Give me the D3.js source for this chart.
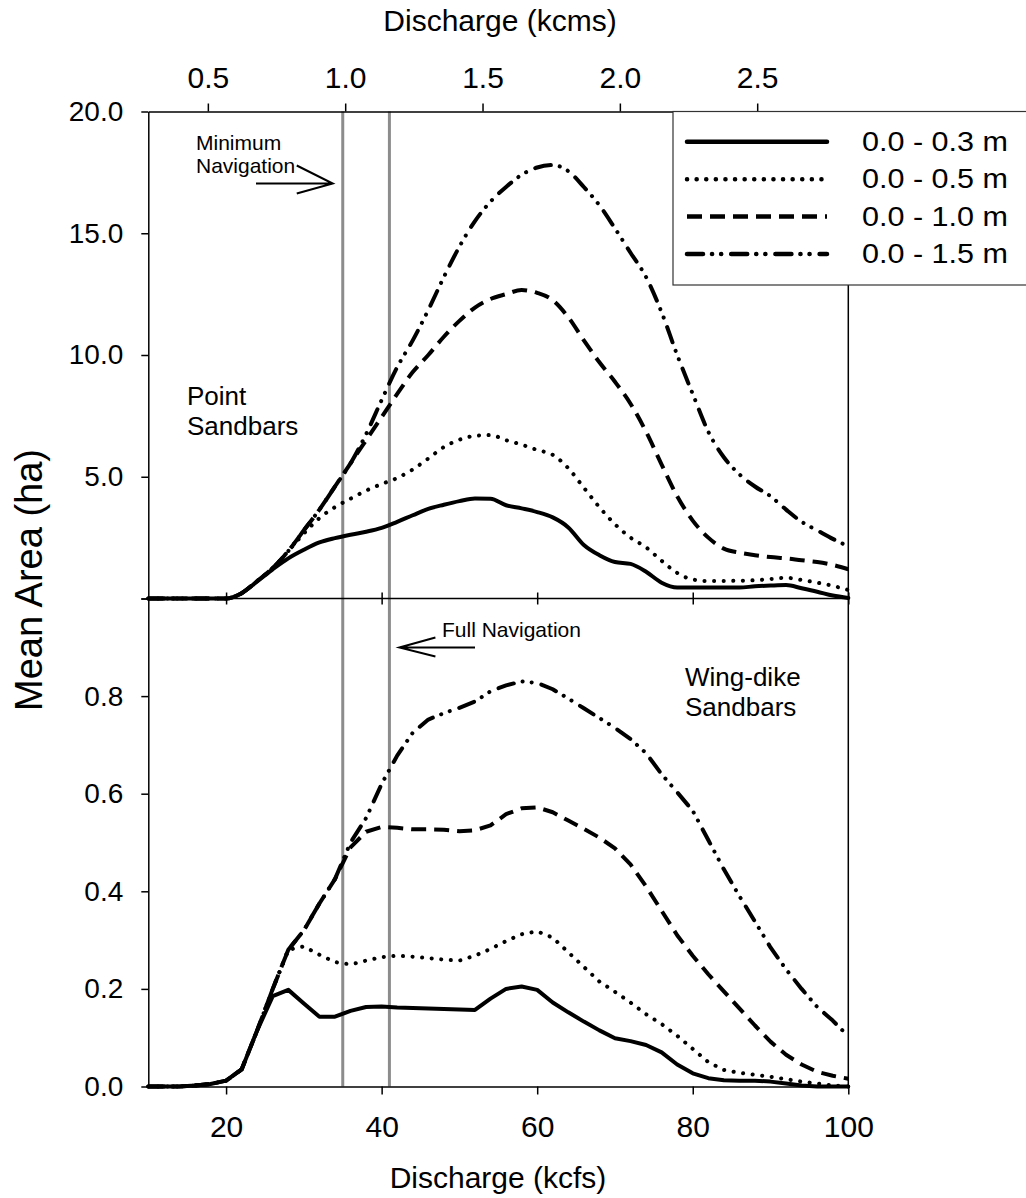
<!DOCTYPE html>
<html lang="en">
<head>
<meta charset="UTF-8">
<title>Mean sandbar area vs discharge</title>
<script src="https://d3js.org/d3.v7.min.js"></script>
<style>
body { margin: 0; background: #fff; }
svg text { font-family: "Liberation Sans", Arial, Helvetica, sans-serif; fill: #000; }
.axis path, .axis line { stroke: #000; stroke-width: 1.5px; }
.axis text { font-size: 28px; }
.curve { fill: none; stroke: #000; stroke-width: 4px; }
</style>
</head>
<body>
<svg width="1026" height="1198"></svg>
<script>

// discharge grid (kcfs)
const discharge = [10,12,14,16,18,20,22,24,26,28,30,32,34,36,38,40,42,44,46,48,50,52,54,56,58,60,
                   62,64,66,68,70,72,74,76,78,80,82,84,86,88,90,92,94,96,98,100];

// point sandbars, mean area (ha)
const point03 = [0,0,0,0,0,0,0.22,0.7,1.2,1.65,2.0,2.3,2.48,2.62,2.74,2.9,3.15,3.42,3.68,3.85,4.0,4.11,4.1,3.83,3.7,3.55,
                 3.33,2.92,2.2,1.78,1.5,1.42,1.1,0.65,0.45,0.45,0.45,0.45,0.45,0.5,0.53,0.55,0.42,0.28,0.12,0.02];
const point05 = [0,0,0,0,0,0,0.22,0.72,1.25,1.95,2.67,3.3,3.75,4.1,4.43,4.7,4.95,5.3,5.75,6.22,6.52,6.68,6.71,6.5,6.32,6.1,
                 5.9,5.35,4.55,3.75,3.05,2.5,2.1,1.55,1.05,0.78,0.72,0.72,0.73,0.75,0.8,0.85,0.76,0.65,0.52,0.35];
const point10 = [0,0,0,0,0,0,0.22,0.72,1.25,1.95,2.8,3.65,4.6,5.55,6.5,7.45,8.4,9.3,10.0,10.75,11.4,11.95,12.3,12.5,12.67,12.55,
                 12.25,11.55,10.6,9.7,8.9,8.0,6.85,5.5,4.2,3.2,2.5,2.05,1.88,1.78,1.7,1.65,1.57,1.5,1.38,1.2];
const point15 = [0,0,0,0,0,0,0.22,0.72,1.25,1.95,2.8,3.65,4.6,5.55,6.75,8.15,9.5,10.6,11.85,13.2,14.45,15.5,16.3,16.9,17.4,17.7,
                 17.8,17.55,16.9,16.15,15.2,14.2,13.2,11.75,10.0,8.4,6.85,5.8,5.1,4.6,4.2,3.65,3.15,2.8,2.45,2.15];

// wing-dike sandbars, mean area (ha)
const wing03 = [0,0,0,0.002,0.005,0.012,0.035,0.115,0.185,0.198,0.17,0.143,0.143,0.155,0.163,0.164,0.162,0.161,0.16,0.159,0.158,0.157,0.18,0.2,0.205,0.198,
                0.172,0.152,0.133,0.115,0.099,0.093,0.085,0.07,0.045,0.027,0.017,0.013,0.012,0.012,0.01,0.006,0.002,0,0,0];
const wing05 = [0,0,0,0.002,0.005,0.012,0.035,0.115,0.2,0.28,0.287,0.27,0.255,0.25,0.258,0.265,0.268,0.266,0.263,0.26,0.258,0.268,0.282,0.298,0.312,0.318,
                0.305,0.275,0.245,0.215,0.194,0.172,0.148,0.128,0.104,0.077,0.05,0.034,0.028,0.024,0.02,0.015,0.01,0.006,0.002,0];
const wing10 = [0,0,0,0.002,0.005,0.012,0.035,0.115,0.2,0.28,0.32,0.375,0.425,0.49,0.522,0.532,0.53,0.527,0.527,0.526,0.523,0.525,0.535,0.558,0.57,0.572,
                0.562,0.545,0.528,0.51,0.488,0.455,0.41,0.36,0.31,0.268,0.23,0.195,0.16,0.125,0.092,0.065,0.045,0.03,0.022,0.016];
const wing15 = [0,0,0,0.002,0.005,0.012,0.035,0.115,0.2,0.28,0.32,0.375,0.425,0.5,0.55,0.62,0.678,0.725,0.752,0.765,0.776,0.789,0.81,0.822,0.83,0.827,
                0.814,0.795,0.775,0.755,0.735,0.712,0.683,0.64,0.603,0.565,0.505,0.445,0.39,0.338,0.285,0.24,0.2,0.163,0.135,0.103];

const depthLabels = ["0.0 - 0.3 m", "0.0 - 0.5 m", "0.0 - 1.0 m", "0.0 - 1.5 m"];
const navDischarge = [35, 41];            // minimum / full navigation (kcfs)
const kcfsTicks = [20, 40, 60, 80, 100];
const kcmsTicks = [0.5, 1.0, 1.5, 2.0, 2.5];
const pointTicks = [0, 5, 10, 15, 20];
const wingTicks = [0, 0.2, 0.4, 0.6, 0.8, 1.0];

const KCFS_PER_KCMS = 35.3147;

// line styles for the four depth classes
const dashes = [null, "0.1 9.5", "15 8", "16 9 0.1 9 0.1 10"];
const caps = ["round", "round", "butt", "round"];

const svg = d3.select("svg");

const plotL = 148.3, plotR = 848.3, plotT = 111.5, plotM = 598.5, plotB = 1086.5;

const x = d3.scaleLinear().domain([10, 100]).range([plotL, plotR]);
const xTop = d3.scaleLinear().domain([10 / KCFS_PER_KCMS, 100 / KCFS_PER_KCMS]).range([plotL, plotR]);
const yPoint = d3.scaleLinear().domain([0, 20]).range([plotM, plotT]);
const yWing = d3.scaleLinear().domain([0, 1]).range([plotB, plotM]);

// navigation reference lines
svg.selectAll(".nav")
  .data(navDischarge)
  .enter().append("line")
    .attr("class", "nav")
    .attr("x1", d => x(d)).attr("x2", d => x(d))
    .attr("y1", plotT).attr("y2", plotB)
    .attr("stroke", "#8c8c8c")
    .attr("stroke-width", 3);

// curves (point sandbars smooth, wing-dike sandbars drawn point to point)
function drawPanel(series, y, curve) {
  const line = d3.line()
    .x((d, i) => x(discharge[i]))
    .y(d => y(d))
    .curve(curve);
  series.forEach((s, k) => {
    svg.append("path")
      .datum(s)
      .attr("class", "curve")
      .attr("d", line)
      .attr("stroke-dasharray", dashes[k])
      .attr("stroke-linecap", caps[k])
      .attr("stroke-linejoin", "round");
  });
}
drawPanel([point03, point05, point10, point15], yPoint, d3.curveMonotoneX);
drawPanel([wing03, wing05, wing10, wing15], yWing, d3.curveLinear);

// axes
svg.append("g").attr("class", "axis")
  .attr("transform", "translate(" + plotL + ",0)")
  .call(d3.axisLeft(yPoint).tickValues(pointTicks).tickSize(7).tickPadding(18).tickSizeOuter(0)
    .tickFormat(d => d === 0 ? "" : d3.format(".1f")(d)));

svg.append("g").attr("class", "axis")
  .attr("transform", "translate(" + plotL + ",0)")
  .call(d3.axisLeft(yWing).tickValues(wingTicks).tickSize(7).tickPadding(18).tickSizeOuter(0)
    .tickFormat(d => d === 1 ? "" : d3.format(".1f")(d)));

const bottomAxis = svg.append("g").attr("class", "axis")
  .attr("transform", "translate(0," + plotB + ")")
  .call(d3.axisBottom(x).tickValues(kcfsTicks).tickSize(8).tickPadding(21).tickSizeOuter(0));
bottomAxis.selectAll("text").style("font-size", "30px");

const topAxis = svg.append("g").attr("class", "axis")
  .attr("transform", "translate(0," + plotT + ")")
  .call(d3.axisTop(xTop).tickValues(kcmsTicks).tickSize(8).tickPadding(16).tickSizeOuter(0)
    .tickFormat(d3.format(".1f")));
topAxis.selectAll("text").style("font-size", "30px");

// ticks straddling the line between the panels
const midAxis = svg.append("g").attr("class", "axis")
  .attr("transform", "translate(0," + (plotM - 6) + ")")
  .call(d3.axisBottom(x).tickValues(kcfsTicks).tickSize(12).tickFormat(""));
midAxis.select(".domain").remove();

svg.append("line")
  .attr("x1", plotL).attr("x2", plotR).attr("y1", plotM).attr("y2", plotM)
  .attr("stroke", "#000").attr("stroke-width", 1.5);
svg.append("line")
  .attr("x1", plotR).attr("x2", plotR).attr("y1", plotT).attr("y2", plotB)
  .attr("stroke", "#000").attr("stroke-width", 1.5);

// axis titles
svg.append("text")
  .attr("x", 500).attr("y", 31)
  .attr("text-anchor", "middle")
  .style("font-size", "30px")
  .text("Discharge (kcms)");

svg.append("text")
  .attr("x", 498).attr("y", 1188)
  .attr("text-anchor", "middle")
  .style("font-size", "30px")
  .text("Discharge (kcfs)");

svg.append("text")
  .attr("transform", "translate(42,580) rotate(-90)")
  .attr("text-anchor", "middle")
  .style("font-size", "38px")
  .text("Mean Area (ha)");

// panel labels
function label(lines, x0, y0, size, gap) {
  const t = svg.append("text").attr("x", x0).attr("y", y0).style("font-size", size + "px");
  lines.forEach((s, i) => t.append("tspan").attr("x", x0).attr("dy", i ? gap : 0).text(s));
}
label(["Point", "Sandbars"], 187, 405, 26, 30);
label(["Wing-dike", "Sandbars"], 685, 686, 26, 30);
label(["Minimum", "Navigation"], 196, 150, 21, 23);
label(["Full Navigation"], 442, 637, 21, 0);

// arrows
function arrow(x0, x1, y0, up, down) {
  const dir = x1 > x0 ? -1 : 1;
  svg.append("path")
    .attr("d", "M" + x0 + "," + y0 + "H" + x1 +
               "M" + (x1 + dir * 36) + "," + (y0 - up) + "L" + x1 + "," + y0 + "L" + (x1 + dir * 36) + "," + (y0 + down))
    .attr("fill", "none")
    .attr("stroke", "#000")
    .attr("stroke-width", 2);
}
arrow(256, x(navDischarge[0]) - 10, 183.5, 18, 10);
arrow(475, x(navDischarge[1]) + 10, 647.5, 10, 9);

// legend
const legend = svg.append("g");
legend.append("rect")
  .attr("x", 673).attr("y", plotT)
  .attr("width", 370).attr("height", 285 - plotT)
  .attr("fill", "#fff")
  .attr("stroke", "#333")
  .attr("stroke-width", 1.2);

const rowY = d3.scalePoint().domain(depthLabels).range([141.7, 254]);
depthLabels.forEach((lab, k) => {
  legend.append("line")
    .attr("x1", 687).attr("x2", 827)
    .attr("y1", rowY(lab)).attr("y2", rowY(lab))
    .attr("stroke", "#000").attr("stroke-width", 4.5)
    .attr("stroke-dasharray", dashes[k])
    .attr("stroke-linecap", caps[k]);
  legend.append("text")
    .attr("x", 862).attr("y", rowY(lab) + 9)
    .attr("textLength", 146)
    .attr("lengthAdjust", "spacingAndGlyphs")
    .style("font-size", "27px")
    .text(lab);
});

</script>
</body>
</html>
